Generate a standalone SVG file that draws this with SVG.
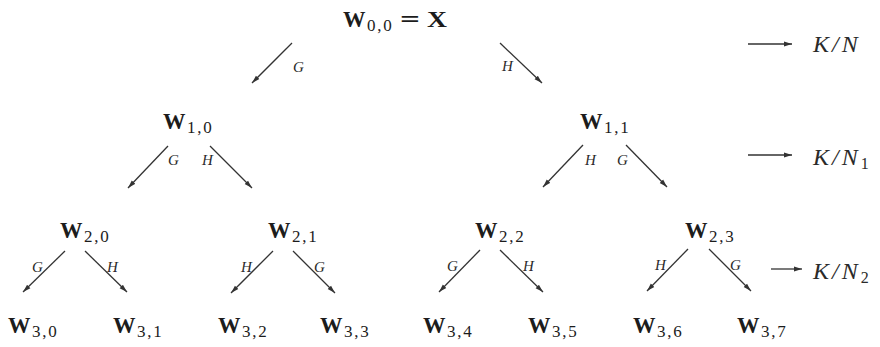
<svg xmlns="http://www.w3.org/2000/svg" width="880" height="347" viewBox="0 0 880 347">
<style>
  .w { font-family: "Liberation Serif", "Times New Roman", serif; font-weight: bold; font-size: 22.5px; fill: #1c1c1c; }
  .s { font-family: "Liberation Serif", "Times New Roman", serif; font-weight: normal; font-size: 17px; letter-spacing: 1.8px; }
  .lab { font-family: "Liberation Serif", "Times New Roman", serif; font-style: italic; font-size: 15px; fill: #2a2a2a; }
  .kn { font-family: "Liberation Serif", "Times New Roman", serif; font-style: italic; font-size: 24px; fill: #2a2a2a; letter-spacing: 3px; }
  .kns { font-style: normal; font-size: 16px; letter-spacing: 0; }
  .e { stroke: #333; stroke-width: 1.3; fill: none; marker-end: url(#ah); }
</style>
<defs>
  <marker id="ah" markerUnits="userSpaceOnUse" markerWidth="8" markerHeight="6" refX="8" refY="3" orient="auto">
    <path d="M0,0.6 L8,3 L0,5.4 z" fill="#333"/>
  </marker>
</defs>
<rect width="880" height="347" fill="#ffffff"/>

<g id="w00">
  <text x="343" y="27" class="w">W<tspan class="s" dx="1.5" dy="4">0,0</tspan></text>
  <text x="400" y="27" class="w" font-weight="normal" textLength="20" lengthAdjust="spacingAndGlyphs">=</text>
  <text x="427" y="27" class="w" textLength="20" lengthAdjust="spacingAndGlyphs">X</text>
</g>
<g id="w10"><text x="163" y="129" class="w">W<tspan class="s" dx="1.5" dy="4">1,0</tspan></text></g>
<g id="w11"><text x="580" y="129" class="w">W<tspan class="s" dx="1.5" dy="4">1,1</tspan></text></g>
<g id="w20"><text x="60" y="238" class="w">W<tspan class="s" dx="1.5" dy="4">2,0</tspan></text></g>
<g id="w21"><text x="268" y="238" class="w">W<tspan class="s" dx="1.5" dy="4">2,1</tspan></text></g>
<g id="w22"><text x="475" y="238" class="w">W<tspan class="s" dx="1.5" dy="4">2,2</tspan></text></g>
<g id="w23"><text x="685" y="238" class="w">W<tspan class="s" dx="1.5" dy="4">2,3</tspan></text></g>
<g id="w30"><text x="8" y="333" class="w">W<tspan class="s" dx="1.5" dy="4">3,0</tspan></text></g>
<g id="w31"><text x="113" y="333" class="w">W<tspan class="s" dx="1.5" dy="4">3,1</tspan></text></g>
<g id="w32"><text x="218" y="333" class="w">W<tspan class="s" dx="1.5" dy="4">3,2</tspan></text></g>
<g id="w33"><text x="320" y="333" class="w">W<tspan class="s" dx="1.5" dy="4">3,3</tspan></text></g>
<g id="w34"><text x="423" y="333" class="w">W<tspan class="s" dx="1.5" dy="4">3,4</tspan></text></g>
<g id="w35"><text x="528" y="333" class="w">W<tspan class="s" dx="1.5" dy="4">3,5</tspan></text></g>
<g id="w36"><text x="633" y="333" class="w">W<tspan class="s" dx="1.5" dy="4">3,6</tspan></text></g>
<g id="w37"><text x="737" y="333" class="w">W<tspan class="s" dx="1.5" dy="4">3,7</tspan></text></g>

<g id="connectors">
  <line class="e" x1="292" y1="43" x2="252" y2="83"/>
  <line class="e" x1="500" y1="43" x2="542" y2="83"/>
  <line class="e" x1="168" y1="146" x2="128" y2="188"/>
  <line class="e" x1="210" y1="146" x2="252" y2="188"/>
  <line class="e" x1="583" y1="145" x2="543" y2="187"/>
  <line class="e" x1="626" y1="145" x2="667" y2="187"/>
  <line class="e" x1="65" y1="251" x2="23" y2="292"/>
  <line class="e" x1="85" y1="251" x2="127" y2="292"/>
  <line class="e" x1="273" y1="251" x2="231" y2="293"/>
  <line class="e" x1="293" y1="251" x2="335" y2="293"/>
  <line class="e" x1="480" y1="250" x2="439" y2="292"/>
  <line class="e" x1="500" y1="250" x2="543" y2="292"/>
  <line class="e" x1="688" y1="249" x2="647" y2="291"/>
  <line class="e" x1="709" y1="249" x2="751" y2="291"/>
</g>

<g id="edge-labels">
  <text class="lab" x="293" y="72">G</text>
  <text class="lab" x="502" y="71">H</text>
  <text class="lab" x="168" y="165">G</text>
  <text class="lab" x="202" y="165">H</text>
  <text class="lab" x="585" y="165">H</text>
  <text class="lab" x="617" y="165">G</text>
  <text class="lab" x="32" y="272">G</text>
  <text class="lab" x="107" y="272">H</text>
  <text class="lab" x="241" y="272">H</text>
  <text class="lab" x="314" y="272">G</text>
  <text class="lab" x="447" y="271">G</text>
  <text class="lab" x="523" y="271">H</text>
  <text class="lab" x="655" y="270">H</text>
  <text class="lab" x="730" y="270">G</text>
</g>

<g id="level-labels">
  <line class="e" x1="748" y1="44" x2="792" y2="44"/>
  <text class="kn" x="813" y="52">K/N</text>
  <line class="e" x1="748" y1="155" x2="792" y2="155"/>
  <text class="kn" x="813" y="165">K/N<tspan class="kns" dy="4">1</tspan></text>
  <line class="e" x1="771" y1="269" x2="802" y2="269"/>
  <text class="kn" x="813" y="279">K/N<tspan class="kns" dy="4">2</tspan></text>
</g>
</svg>
